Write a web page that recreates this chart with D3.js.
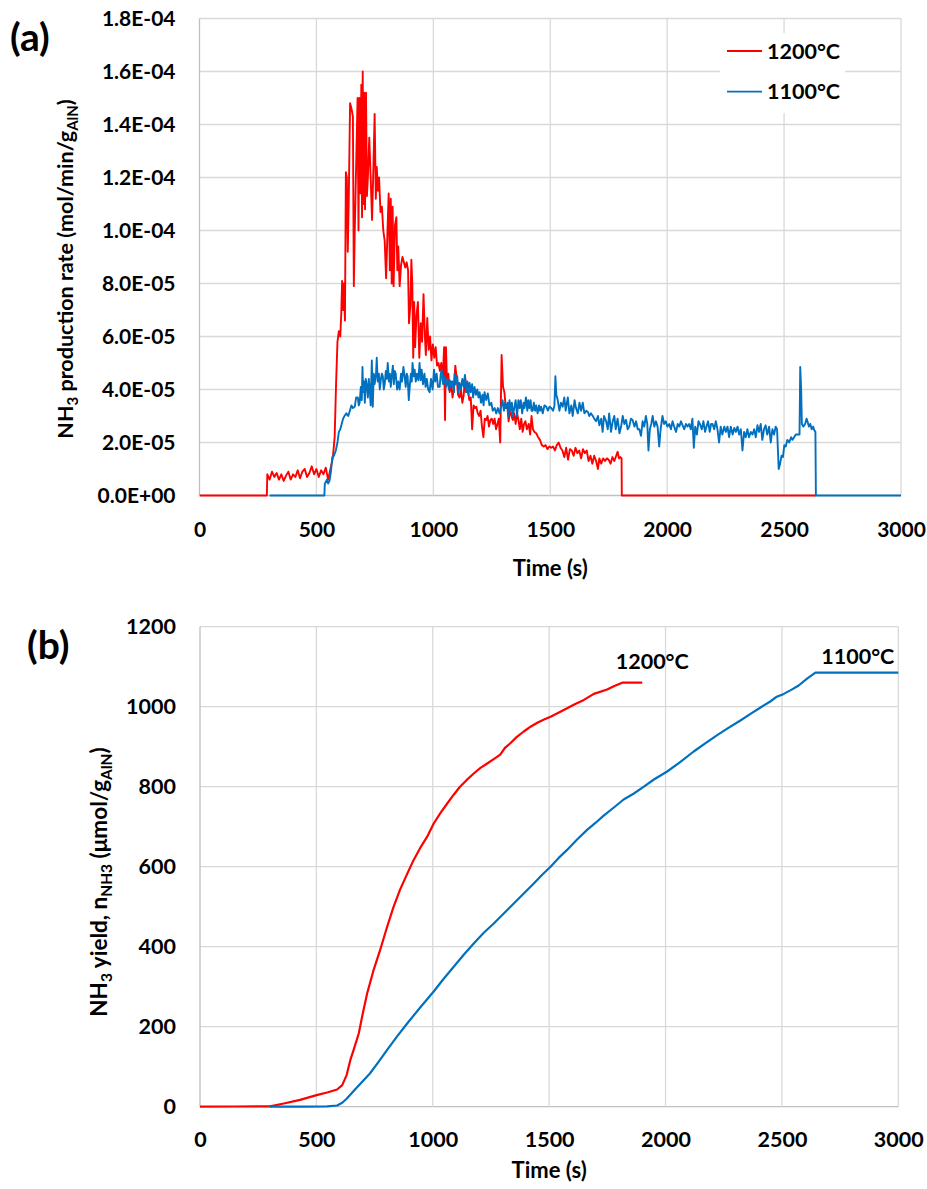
<!DOCTYPE html>
<html><head><meta charset="utf-8">
<script src="https://cdn.jsdelivr.net/npm/d3@7"></script>
<style>
body{margin:0;background:#fff;}
text{font-family:Lato,"Open Sans",sans-serif;font-weight:bold;fill:#000;}
</style></head><body>
<svg id="c" width="927" height="1189"></svg>
<script>
// ---------- DATA ----------
// (a) NH3 production rate, values in units of 1E-05 mol/min/gAlN ; [time s, rate]
const rate1200 = [[0,0],[288,0],[290,0.8],[300,0.6],[310,0.9],[320,0.7],[330,0.85],[340,0.6],[350,0.8],[360,0.55],[370,0.75],[380,0.9],[390,0.6],[400,0.8],[410,0.7],[420,0.95],[430,0.65],[440,0.9],[450,1.0],[460,0.7],[470,0.85],[480,1.1],[490,0.8],[500,1.0],[510,0.7],[520,0.95],[530,0.8],[540,1.05],[550,0.6],[560,1.0],[570,1.4],[578,2.2],[584,4.2],[590,5.8],[596,6.2],[602,6.0],[606,6.8],[610,8.1],[614,7.0],[618,8.0],[622,6.6],[626,12.2],[630,12.0],[634,9.2],[638,11.0],[644,14.8],[650,14.6],[656,14.3],[660,7.9],[664,10.0],[670,12.5],[676,15.0],[680,10.0],[684,15.0],[688,11.4],[692,15.5],[695,10.5],[698,16.0],[701,11.0],[704,15.2],[708,10.8],[712,15.2],[716,11.3],[720,12.0],[726,13.5],[732,12.0],[738,10.4],[744,12.5],[749,14.4],[754,11.2],[758,12.4],[763,11.5],[768,12.0],[774,10.7],[780,10.9],[786,10.0],[792,9.6],[798,8.2],[804,10.0],[809,11.4],[814,8.5],[818,11.2],[822,8.0],[826,10.9],[830,7.9],[836,10.2],[842,10.5],[846,8.5],[850,9.4],[856,7.9],[862,8.7],[868,9.0],[874,8.8],[880,8.6],[886,8.8],[892,8.5],[896,6.5],[902,7.2],[906,8.9],[910,8.0],[914,5.2],[918,7.3],[922,5.6],[928,6.8],[934,7.3],[940,5.2],[946,6.5],[952,5.8],[958,7.6],[964,6.0],[968,5.3],[974,6.7],[980,5.5],[986,6.0],[992,5.1],[998,5.7],[1004,5.2],[1010,5.6],[1016,4.9],[1022,5.0],[1028,4.7],[1034,5.0],[1040,4.3],[1046,5.6],[1050,2.85],[1054,5.6],[1058,4.4],[1064,4.6],[1070,3.9],[1076,4.3],[1082,3.7],[1088,4.0],[1094,4.9],[1100,4.4],[1106,3.8],[1112,3.7],[1118,4.0],[1124,3.5],[1130,3.8],[1136,4.5],[1142,3.9],[1148,4.0],[1154,3.6],[1160,3.7],[1166,2.5],[1172,3.4],[1178,3.3],[1184,3.35],[1190,3.1],[1196,3.0],[1202,3.2],[1208,2.6],[1214,2.2],[1220,2.9],[1226,2.85],[1232,3.0],[1238,2.6],[1244,2.85],[1250,2.9],[1256,2.7],[1262,2.9],[1268,2.5],[1274,2.7],[1280,2.9],[1286,2.0],[1292,5.3],[1298,4.1],[1304,3.9],[1310,3.3],[1316,3.4],[1322,2.8],[1328,3.3],[1334,3.0],[1340,2.85],[1346,3.1],[1352,2.7],[1358,3.1],[1364,2.85],[1370,2.5],[1376,2.9],[1382,2.4],[1388,2.7],[1394,2.8],[1400,2.5],[1408,2.7],[1414,2.3],[1420,3.0],[1426,2.5],[1432,2.4],[1440,2.35],[1448,2.2],[1456,2.1],[1464,1.9],[1472,1.85],[1480,1.9],[1488,1.75],[1496,1.85],[1504,1.8],[1512,1.85],[1520,1.7],[1528,1.9],[1536,2.0],[1544,1.8],[1552,1.7],[1560,1.45],[1568,1.8],[1576,1.35],[1584,1.75],[1592,1.7],[1600,1.5],[1608,1.8],[1616,1.6],[1624,1.7],[1632,1.4],[1640,1.75],[1648,1.6],[1656,1.7],[1664,1.3],[1672,1.5],[1680,1.2],[1688,1.5],[1696,1.3],[1704,1.0],[1710,1.4],[1718,1.2],[1726,1.4],[1734,1.3],[1742,1.4],[1750,1.35],[1758,1.2],[1766,1.45],[1774,1.3],[1782,1.5],[1788,1.65],[1794,1.4],[1800,1.45],[1805,1.4],[1806,0],[2636,0]];
const rate1100 = [[300,0],[534,0],[536,0.45],[545,0.6],[550,0.45],[556,0.55],[562,0.9],[568,1.45],[575,1.5],[583,1.7],[590,2.0],[596,2.4],[602,2.5],[608,2.7],[614,2.9],[620,3.0],[628,3.1],[636,3.0],[643,3.2],[650,3.4],[656,3.3],[664,3.35],[670,3.7],[677,3.7],[681,3.4],[685,3.5],[690,4.1],[694,3.6],[697,4.85],[700,3.9],[704,4.3],[707,3.5],[711,4.4],[715,4.2],[720,3.7],[724,4.4],[728,4.0],[732,3.4],[737,5.1],[741,3.35],[745,4.6],[749,4.2],[755,4.6],[758,5.2],[762,4.3],[767,4.6],[771,4.0],[776,4.4],[780,4.6],[784,4.5],[788,4.0],[792,4.2],[797,4.7],[801,4.4],[805,5.0],[810,4.3],[814,4.6],[818,4.1],[822,4.5],[827,4.9],[831,4.2],[835,4.7],[839,4.6],[845,4.0],[850,4.3],[856,4.0],[862,4.6],[866,4.3],[872,4.85],[877,4.5],[882,4.1],[886,4.6],[890,4.5],[895,3.6],[899,4.1],[904,4.6],[908,4.3],[911,5.0],[916,4.5],[920,4.75],[925,4.3],[930,4.6],[936,4.35],[941,5.0],[946,4.35],[950,4.75],[956,4.2],[962,4.6],[967,4.1],[972,4.4],[978,4.0],[984,3.9],[990,4.4],[997,4.0],[1003,4.75],[1008,4.3],[1014,4.6],[1020,4.1],[1027,4.1],[1032,4.6],[1036,4.75],[1042,4.2],[1048,4.5],[1054,4.1],[1060,4.4],[1066,4.0],[1070,4.35],[1076,4.1],[1083,4.3],[1088,3.9],[1091,4.6],[1096,4.2],[1102,4.5],[1108,3.9],[1112,4.25],[1118,4.0],[1124,4.4],[1130,4.1],[1135,4.55],[1140,3.9],[1146,4.3],[1150,3.8],[1155,4.25],[1160,3.9],[1166,4.2],[1170,3.7],[1176,4.1],[1182,3.8],[1188,4.0],[1193,3.7],[1198,3.9],[1204,3.5],[1210,3.8],[1215,3.4],[1219,3.9],[1226,3.6],[1233,3.85],[1240,3.4],[1248,3.5],[1254,3.2],[1262,3.3],[1269,3.1],[1276,3.3],[1283,3.1],[1290,3.35],[1296,3.6],[1302,3.2],[1307,3.5],[1312,3.3],[1318,3.5],[1322,3.0],[1326,3.6],[1330,3.2],[1336,3.5],[1340,3.0],[1347,3.35],[1352,3.6],[1358,3.0],[1364,3.6],[1369,3.3],[1374,3.6],[1380,3.1],[1386,3.5],[1390,3.3],[1396,3.7],[1402,3.2],[1406,3.6],[1411,3.3],[1416,3.6],[1420,3.2],[1425,3.2],[1430,3.5],[1435,3.2],[1440,3.4],[1446,3.1],[1452,3.4],[1456,3.2],[1461,3.35],[1468,3.1],[1475,3.4],[1483,3.35],[1490,3.2],[1497,3.35],[1504,3.3],[1512,3.2],[1518,3.4],[1522,4.5],[1526,3.8],[1532,3.6],[1539,3.2],[1546,3.5],[1553,3.35],[1560,3.7],[1566,3.2],[1575,3.7],[1582,3.1],[1590,3.4],[1596,3.0],[1604,3.6],[1610,3.3],[1618,3.1],[1625,3.5],[1632,3.2],[1639,3.5],[1646,3.1],[1654,3.2],[1661,3.15],[1667,3.0],[1674,3.1],[1682,3.0],[1688,2.9],[1696,2.8],[1704,3.0],[1710,2.65],[1718,2.9],[1724,2.4],[1730,3.0],[1739,2.8],[1746,2.5],[1752,3.1],[1760,2.4],[1767,2.8],[1774,3.0],[1780,2.5],[1788,2.9],[1796,2.35],[1803,2.6],[1810,3.0],[1817,2.7],[1824,2.85],[1831,2.5],[1838,2.6],[1845,2.9],[1852,2.85],[1860,2.6],[1867,2.8],[1874,2.5],[1881,2.5],[1888,2.25],[1895,2.8],[1902,2.6],[1909,3.0],[1915,2.7],[1920,1.7],[1926,2.5],[1932,2.7],[1938,3.0],[1945,2.6],[1952,2.8],[1959,2.6],[1966,1.85],[1972,2.5],[1980,3.0],[1987,2.7],[1994,2.8],[2001,2.6],[2009,2.7],[2016,2.5],[2023,2.8],[2030,2.6],[2038,2.4],[2045,2.7],[2052,2.6],[2059,2.8],[2066,2.65],[2073,2.5],[2080,2.7],[2087,2.6],[2094,2.7],[2101,2.5],[2108,2.9],[2114,1.8],[2120,2.6],[2127,2.3],[2134,2.8],[2140,2.7],[2148,2.5],[2155,2.8],[2162,2.4],[2168,2.6],[2175,2.8],[2182,2.4],[2188,2.7],[2194,2.7],[2201,2.5],[2208,2.8],[2215,2.5],[2222,2.0],[2229,2.6],[2236,2.3],[2244,2.6],[2251,2.4],[2258,2.6],[2265,2.2],[2272,2.6],[2280,2.3],[2287,2.55],[2294,2.4],[2301,2.6],[2308,2.3],[2315,2.5],[2322,1.7],[2329,2.4],[2336,2.2],[2343,2.5],[2350,2.2],[2358,2.4],[2365,2.3],[2372,2.5],[2379,2.2],[2386,2.65],[2393,2.4],[2400,2.7],[2407,2.1],[2414,2.5],[2421,2.65],[2428,2.3],[2436,2.6],[2443,2.0],[2450,2.5],[2457,2.3],[2464,2.6],[2470,2.5],[2473,1.85],[2477,1.0],[2483,1.2],[2489,1.5],[2495,1.45],[2501,1.9],[2507,1.85],[2514,2.1],[2522,2.0],[2530,2.2],[2536,2.1],[2543,2.2],[2550,2.3],[2558,2.3],[2566,2.3],[2569,4.85],[2573,4.0],[2576,2.7],[2582,2.6],[2590,2.7],[2596,2.9],[2600,2.8],[2606,2.6],[2612,2.7],[2618,2.5],[2624,2.6],[2630,2.45],[2634,2.4],[2636,0],[3000,0]];
// (b) NH3 yield, µmol/gAlN ; [time s, yield]
const yield1200 = [[0,0],[150,0.5],[301,1],[360,8],[430,17],[501,29],[550,36],[589,43],[611,54],[630,79],[646,117],[659,140],[682,183],[700,235],[718,283],[745,340],[773,390],[804,450],[830,497],[859,542],[890,582],[918,617],[946,647],[976,675],[1004,708],[1034,735],[1062,758],[1090,780],[1117,800],[1146,817],[1176,833],[1205,847],[1234,858],[1265,870],[1290,880],[1310,897],[1332,908],[1360,924],[1391,938],[1420,950],[1449,960],[1478,968],[1506,975],[1540,985],[1577,996],[1610,1006],[1649,1017],[1692,1032],[1749,1043],[1780,1052],[1814,1060],[1900,1060]];
const yield1100 = [[301,0],[450,0],[546,1],[589,3],[611,10],[630,20],[661,40],[690,58],[730,83],[767,112],[804,142],[846,175],[890,208],[946,248],[1004,288],[1047,320],[1090,350],[1133,380],[1176,408],[1219,435],[1262,458],[1305,483],[1348,508],[1391,533],[1434,558],[1470,580],[1506,600],[1541,622],[1577,642],[1620,668],[1663,692],[1700,710],[1733,727],[1778,748],[1820,768],[1864,783],[1907,800],[1950,818],[2007,838],[2064,862],[2121,888],[2172,909],[2222,929],[2270,947],[2320,965],[2365,982],[2408,998],[2450,1013],[2478,1025],[2508,1032],[2540,1042],[2572,1053],[2608,1070],[2644,1085],[3000,1085]];
const seriesNames = ["1200°C", "1100°C"];
const seriesColors = ["#ff0000", "#0070c0"];
const xTicks = [0,500,1000,1500,2000,2500,3000];
const xTickLabels = ["0","500","1000","1500","2000","2500","3000"];
const yTicksA = [0,2,4,6,8,10,12,14,16,18];
const yTickLabelsA = ["0.0E+00","2.0E-05","4.0E-05","6.0E-05","8.0E-05","1.0E-04","1.2E-04","1.4E-04","1.6E-04","1.8E-04"];
const yTicksB = [0,200,400,600,800,1000,1200];
const yTickLabelsB = ["0","200","400","600","800","1000","1200"];

// ---------- DRAW ----------
const svg = d3.select("#c");
const GRID = "#d9d9d9", AXIS = "#bfbfbf";

function panel(cfg){
  const g = svg.append("g");
  const x = d3.scaleLinear().domain([0,3000]).range([cfg.left, cfg.right]);
  const y = d3.scaleLinear().domain(cfg.yDomain).range([cfg.bottom, cfg.top]);
  g.append("g").selectAll("line").data(cfg.yTicks).join("line")
    .attr("x1", cfg.left).attr("x2", cfg.right)
    .attr("y1", d => y(d)).attr("y2", d => y(d))
    .attr("stroke", (d,i) => i===0 ? AXIS : GRID).attr("stroke-width", 1.3);
  g.append("g").selectAll("line").data(xTicks).join("line")
    .attr("y1", cfg.top).attr("y2", cfg.bottom)
    .attr("x1", d => x(d)).attr("x2", d => x(d))
    .attr("stroke", (d,i) => i===0 ? AXIS : GRID).attr("stroke-width", 1.3);
  const xa = g.append("g").attr("transform", `translate(0,${cfg.bottom})`)
    .call(d3.axisBottom(x).tickValues(xTicks).tickFormat((d,i)=>xTickLabels[i]).tickSize(0).tickPadding(cfg.xPad));
  xa.select(".domain").remove();
  xa.selectAll("text").attr("font-size", cfg.fs).attr("font-family", null);
  const ya = g.append("g").attr("transform", `translate(${cfg.left},0)`)
    .call(d3.axisLeft(y).tickValues(cfg.yTicks).tickFormat((d,i)=>cfg.yLabels[i]).tickSize(0).tickPadding(cfg.yPad));
  ya.select(".domain").remove();
  ya.selectAll("text").attr("font-size", cfg.fs).attr("font-family", null);
  const clipId = "clip" + cfg.id;
  svg.append("clipPath").attr("id", clipId).append("rect")
    .attr("x", cfg.left).attr("y", cfg.top - 3).attr("width", cfg.right - cfg.left + 2).attr("height", cfg.bottom - cfg.top + 5);
  const line = d3.line().x(d => x(d[0])).y(d => y(d[1]));
  cfg.series.forEach((s,i) => {
    g.append("path").datum(s).attr("d", line).attr("fill","none")
      .attr("stroke", seriesColors[i]).attr("stroke-width", cfg.lw)
      .attr("stroke-linejoin","round").attr("clip-path", `url(#${clipId})`);
  });
  return {g,x,y};
}

// ----- (a)
const A = panel({id:"a", left:199.5, right:901, top:18.5, bottom:495.5, yDomain:[0,18],
  yTicks:yTicksA, yLabels:yTickLabelsA, fs:21, xPad:27, yPad:24, lw:1.9, series:[rate1200, rate1100]});
const lg = A.g.append("g");
lg.append("rect").attr("x", 720).attr("y", 33).attr("width", 125).attr("height", 80).attr("fill","#fff");
seriesNames.forEach((n,i) => {
  const cy = 51 + i*40.7;
  lg.append("line").attr("x1", 727).attr("x2", 762).attr("y1", cy).attr("y2", cy)
    .attr("stroke", seriesColors[i]).attr("stroke-width", 1.8);
  lg.append("text").attr("x", 767).attr("y", cy).attr("dy","0.36em").attr("font-size", 21.5).text(n);
});
A.g.append("text").attr("x", (199.5+901)/2).attr("y", 568).attr("dy","0.36em").attr("text-anchor","middle").attr("font-size",22).text("Time (s)");
const ta = A.g.append("text").attr("transform","translate(65,269) rotate(-90)").attr("text-anchor","middle").attr("dy","0.36em").attr("font-size",21.5);
ta.append("tspan").text("NH");
ta.append("tspan").attr("font-size",15).attr("dy",5).text("3");
ta.append("tspan").attr("dy",-5).text(" production rate (mol/min/g");
ta.append("tspan").attr("font-size",15).attr("dy",5).text("AlN");
ta.append("tspan").attr("dy",-5).text(")");
svg.append("text").attr("x", 10).attr("y", 37).attr("dy","0.36em").attr("font-size", 39).text("(a)");

// ----- (b)
const B = panel({id:"b", left:200, right:898.3, top:626.7, bottom:1106.7, yDomain:[0,1200],
  yTicks:yTicksB, yLabels:yTickLabelsB, fs:21.5, xPad:25, yPad:24, lw:2.2, series:[yield1200, yield1100]});
B.g.append("text").attr("x", B.x(yield1200[yield1200.length-1][0]) + 10).attr("y", B.y(1060) - 14)
  .attr("text-anchor","middle").attr("font-size",21.5).text(seriesNames[0]);
B.g.append("text").attr("x", B.x(3000) - 4).attr("y", B.y(1085) - 9)
  .attr("text-anchor","end").attr("font-size",21.5).text(seriesNames[1]);
B.g.append("text").attr("x", (200+898.3)/2).attr("y", 1170).attr("dy","0.36em").attr("text-anchor","middle").attr("font-size",22).text("Time (s)");
const tb = B.g.append("text").attr("transform","translate(99,882) rotate(-90)").attr("text-anchor","middle").attr("dy","0.36em").attr("font-size",22.5);
tb.append("tspan").text("NH");
tb.append("tspan").attr("font-size",15.5).attr("dy",5).text("3");
tb.append("tspan").attr("dy",-5).text(" yield, n");
tb.append("tspan").attr("font-size",15.5).attr("dy",5).text("NH3");
tb.append("tspan").attr("dy",-5).text(" (μmol/g");
tb.append("tspan").attr("font-size",15.5).attr("dy",5).text("AlN");
tb.append("tspan").attr("dy",-5).text(")");
svg.append("text").attr("x", 27).attr("y", 645).attr("dy","0.36em").attr("font-size", 39).text("(b)");
</script></body></html>
